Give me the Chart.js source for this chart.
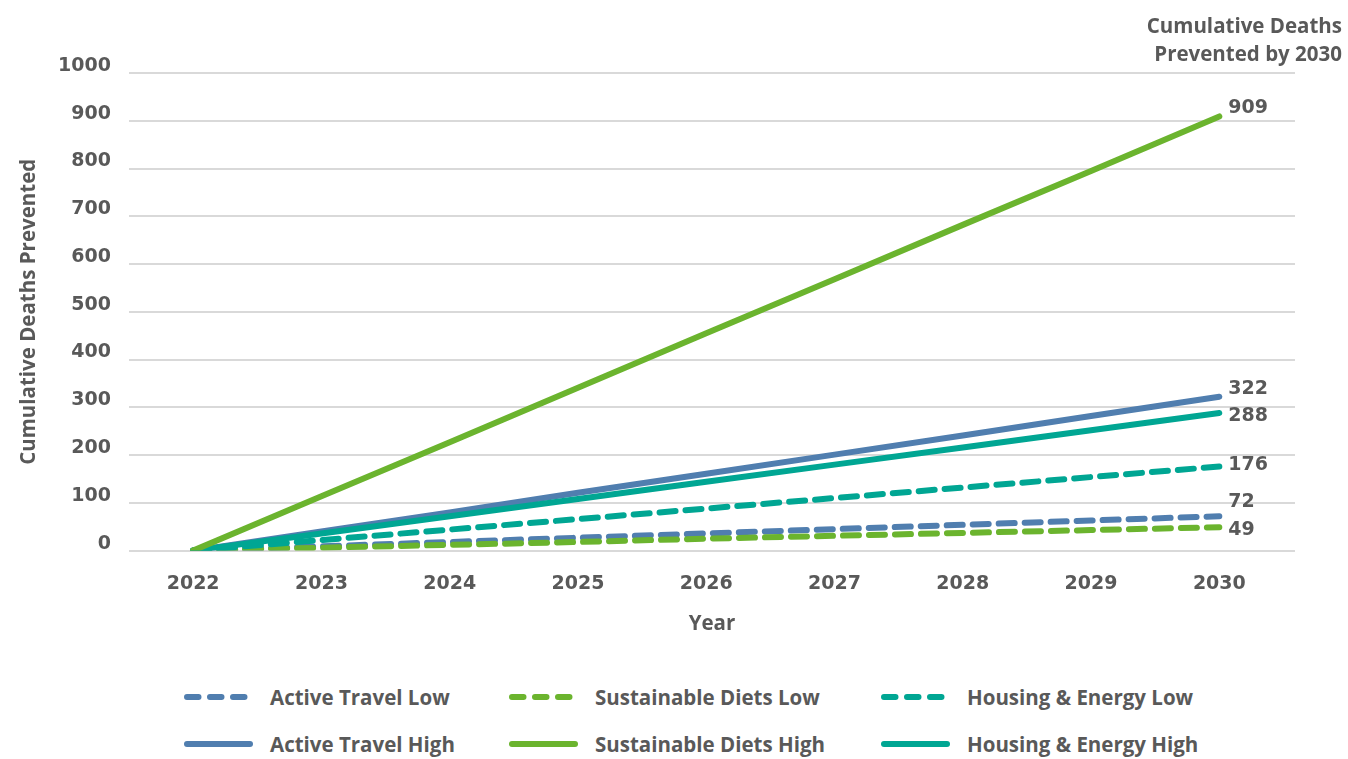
<!DOCTYPE html>
<html>
<head>
<meta charset="utf-8">
<script src="https://cdn.jsdelivr.net/npm/chart.js@4/dist/chart.umd.min.js"></script>
<style>
  html, body { margin: 0; padding: 0; background: #fff; }
  body { width: 1348px; height: 759px; position: relative; overflow: hidden; font-family: "Open Sans", sans-serif; color: #595959; }
  #wrap { position: absolute; left: 0; top: 0; width: 1348px; height: 650px; }
  #title { position: absolute; right: 6px; top: 11px; text-align: right; font-weight: 700; font-size: 20.5px; line-height: 28px; }
  #legend { position: absolute; left: 0; top: 0; width: 1348px; }
  .item { position: absolute; display: flex; align-items: center; height: 30px; font-weight: 700; font-size: 20.5px; white-space: nowrap; }
  .item svg { margin-right: 17px; }
</style>
</head>
<body>
<div id="wrap"><canvas id="chart"></canvas></div>
<div id="title">Cumulative Deaths<br>Prevented by 2030</div>
<div id="legend"></div>
<script>
const years = ['2022', '2023', '2024', '2025', '2026', '2027', '2028', '2029', '2030'];

const activeTravelLow = [0, 9, 18, 27, 36, 45, 54, 63, 72];
const sustainableDietsLow = [0, 6, 12, 18, 25, 31, 37, 43, 49];
const housingEnergyLow = [0, 22, 44, 66, 88, 110, 132, 154, 176];
const activeTravelHigh = [0, 40, 80, 121, 161, 201, 241, 282, 322];
const sustainableDietsHigh = [0, 114, 227, 341, 455, 568, 682, 795, 909];
const housingEnergyHigh = [0, 36, 72, 108, 144, 180, 216, 252, 288];

const yTicks = [0, 100, 200, 300, 400, 500, 600, 700, 800, 900, 1000];

const BLUE = '#507eaf';
const GREEN = '#6bb42e';
const TEAL = '#00a693';
const TEXT = '#595959';

const textFont = { family: 'Open Sans', size: 20.5, weight: '700' };
const numFont = { family: 'DejaVu Sans', size: 19, weight: '700' };

// nudges for the end labels so they don't overlap
const labelNudge = {
  'Active Travel Low': -14,
  'Sustainable Diets Low': 3,
  'Housing & Energy Low': -1,
  'Active Travel High': -8,
  'Sustainable Diets High': -8,
  'Housing & Energy High': 3,
};

const line = (label, values, color, dashed) => ({
  label,
  data: values.map((v, i) => ({ x: i, y: v })),
  borderColor: color,
  backgroundColor: color,
  borderWidth: 6,
  borderDash: dashed ? [16, 10] : [],
  borderCapStyle: 'round',
  borderJoinStyle: 'round',
  pointRadius: 0,
  pointHoverRadius: 0,
  tension: 0,
  fill: false,
});

const datasets = [
  line('Sustainable Diets High', sustainableDietsHigh, GREEN, false),
  line('Housing & Energy High', housingEnergyHigh, TEAL, false),
  line('Housing & Energy Low', housingEnergyLow, TEAL, true),
  line('Sustainable Diets Low', sustainableDietsLow, GREEN, true),
  line('Active Travel Low', activeTravelLow, BLUE, true),
  line('Active Travel High', activeTravelHigh, BLUE, false),
];

const endLabels = {
  id: 'endLabels',
  afterDatasetsDraw(chart) {
    const { ctx, scales } = chart;
    ctx.save();
    ctx.font = '700 19px "DejaVu Sans"';
    ctx.fillStyle = TEXT;
    ctx.textAlign = 'left';
    ctx.textBaseline = 'middle';
    chart.data.datasets.forEach((ds) => {
      const last = ds.data[ds.data.length - 1];
      const x = scales.x.getPixelForValue(last.x) + 9;
      const y = scales.y.getPixelForValue(last.y) + (labelNudge[ds.label] || 0);
      ctx.fillText(String(last.y), x, y);
    });
    ctx.restore();
  },
};

const chart = new Chart(document.getElementById('chart'), {
  type: 'line',
  data: { datasets },
  options: {
    responsive: true,
    maintainAspectRatio: false,
    animation: false,
    layout: { padding: { top: 73, right: 53, bottom: 14, left: 17 } },
    plugins: {
      legend: { display: false },
      tooltip: { enabled: false },
    },
    scales: {
      x: {
        type: 'linear',
        min: -0.5,
        max: 8.59,
        afterBuildTicks: (s) => { s.ticks = years.map((y, i) => ({ value: i })); },
        grid: { display: false },
        border: { display: false },
        ticks: {
          color: TEXT,
          font: numFont,
          padding: 14,
          autoSkip: false,
          maxRotation: 0,
          callback: (v) => years[v],
        },
        title: {
          display: true,
          text: 'Year',
          color: TEXT,
          font: textFont,
          padding: { top: 2, bottom: 0 },
        },
      },
      y: {
        min: 0,
        max: 1000,
        afterBuildTicks: (s) => { s.ticks = yTicks.map((v) => ({ value: v })); },
        afterFit: (s) => { s.width = 112; },
        grid: { color: '#d9d9d9', lineWidth: 2, drawTicks: false },
        border: { display: false },
        ticks: {
          color: TEXT,
          font: numFont,
          padding: 18,
          labelOffset: -7,
          callback: (v) => String(v),
        },
        title: {
          display: true,
          text: 'Cumulative Deaths Prevented',
          color: TEXT,
          font: textFont,
          padding: { top: 0, bottom: 0 },
        },
      },
    },
  },
  plugins: [endLabels],
});

// legend in a fixed 3 x 2 grid
const legendRows = [
  ['Active Travel Low', 'Sustainable Diets Low', 'Housing & Energy Low'],
  ['Active Travel High', 'Sustainable Diets High', 'Housing & Energy High'],
];
const legendCols = [187, 512, 884];
const legendTops = [682, 729];
const legendEl = document.getElementById('legend');

legendRows.forEach((row, r) => {
  row.forEach((name, c) => {
    const ds = chart.data.datasets.find((d) => d.label === name);
    const dashed = ds.borderDash.length > 0;
    const item = document.createElement('div');
    item.className = 'item';
    item.style.left = (legendCols[c] - 3) + 'px';
    item.style.top = legendTops[r] + 'px';
    item.innerHTML =
      '<svg width="69" height="10"><line x1="3" y1="5" x2="66" y2="5" stroke="' + ds.borderColor +
      '" stroke-width="6" stroke-linecap="round"' + (dashed ? ' stroke-dasharray="11.5 11.5"' : '') + '/></svg>' +
      '<span></span>';
    item.querySelector('span').textContent = name;
    legendEl.appendChild(item);
  });
});
</script>
</body>
</html>
